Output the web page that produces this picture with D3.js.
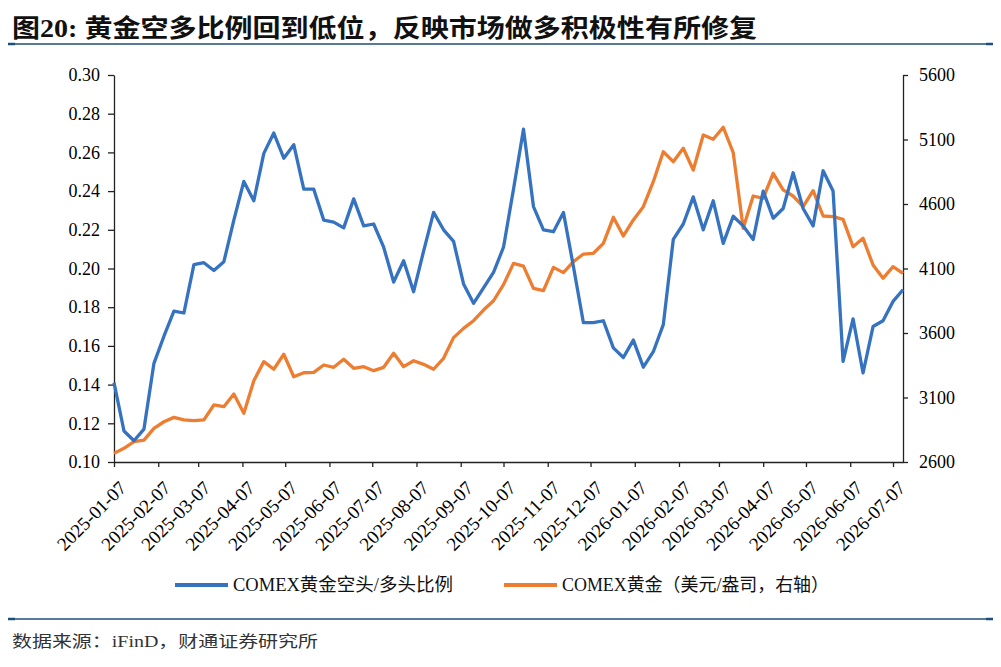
<!DOCTYPE html>
<html>
<head>
<meta charset="utf-8">
<script src="https://cdn.jsdelivr.net/npm/d3@7"></script>
<style>
  body { margin: 0; background: #fff; }
  svg { display: block; }
</style>
</head>
<body>
<script>
'use strict';

// weekly dates (Tuesdays)
const dates = [
  "2025-01-07","2025-01-14","2025-01-21","2025-01-28","2025-02-04","2025-02-11","2025-02-18","2025-02-25",
  "2025-03-04","2025-03-11","2025-03-18","2025-03-25","2025-04-01","2025-04-08","2025-04-15","2025-04-22",
  "2025-04-29","2025-05-06","2025-05-13","2025-05-20","2025-05-27","2025-06-03","2025-06-10","2025-06-17",
  "2025-06-24","2025-07-01","2025-07-08","2025-07-15","2025-07-22","2025-07-29","2025-08-05","2025-08-12",
  "2025-08-19","2025-08-26","2025-09-02","2025-09-09","2025-09-16","2025-09-23","2025-09-30","2025-10-07",
  "2025-10-14","2025-10-21","2025-10-28","2025-11-04","2025-11-11","2025-11-18","2025-11-25","2025-12-02",
  "2025-12-09","2025-12-16","2025-12-23","2025-12-30","2026-01-06","2026-01-13","2026-01-20","2026-01-27",
  "2026-02-03","2026-02-10","2026-02-17","2026-02-24","2026-03-03","2026-03-10","2026-03-17","2026-03-24",
  "2026-03-31","2026-04-07","2026-04-14","2026-04-21","2026-04-28","2026-05-05","2026-05-12","2026-05-19",
  "2026-05-26","2026-06-02","2026-06-09","2026-06-16","2026-06-23","2026-06-30","2026-07-07","2026-07-14"
];

// COMEX gold short/long ratio (left axis)
const ratio = [
  0.141,0.116,0.111,0.117,0.151,0.165,0.178,0.177,0.202,0.203,0.199,0.2035,0.225,0.245,0.235,0.2595,
  0.270,0.257,0.264,0.241,0.241,0.225,0.224,0.221,0.236,0.222,0.223,0.211,0.193,0.204,0.188,0.209,
  0.229,0.220,0.214,0.192,0.182,0.190,0.198,0.211,0.241,0.272,0.232,0.220,0.219,0.229,0.201,0.172,
  0.172,0.173,0.159,0.154,0.163,0.149,0.157,0.171,0.215,0.223,0.237,0.220,0.235,0.213,0.227,0.222,
  0.215,0.240,0.226,0.231,0.2495,0.231,0.222,0.2505,0.240,0.152,0.174,0.146,0.170,0.173,0.183,0.189
];

// COMEX gold price, USD/oz (right axis)
const gold = [
  2667,2706,2757,2770,2861,2912,2946,2926,2920,2926,3042,3029,3127,2977,3230,3378,
  3319,3435,3261,3292,3295,3352,3334,3396,3326,3339,3308,3334,3443,3339,3385,3357,
  3319,3404,3564,3636,3695,3778,3850,3975,4140,4119,3946,3928,4109,4068,4153,4212,
  4218,4295,4497,4352,4476,4579,4773,5005,4928,5032,4864,5135,5102,5195,4998,4412,
  4662,4644,4838,4709,4662,4579,4703,4507,4502,4481,4269,4334,4127,4024,4114,4063
];

const xTicks = [
  "2025-01-07","2025-02-07","2025-03-07","2025-04-07","2025-05-07","2025-06-07","2025-07-07",
  "2025-08-07","2025-09-07","2025-10-07","2025-11-07","2025-12-07","2026-01-07","2026-02-07",
  "2026-03-07","2026-04-07","2026-05-07","2026-06-07","2026-07-07"
];
const leftTicks = [0.10,0.12,0.14,0.16,0.18,0.20,0.22,0.24,0.26,0.28,0.30];
const rightTicks = [2600,3100,3600,4100,4600,5100,5600];

const seriesNames = ["COMEX黄金空头/多头比例", "COMEX黄金（美元/盎司，右轴）"];
const colors = ["#3572c0", "#ed7d31"];

const m = { width: 1001, height: 667, left: 114, right: 903, top: 75, bottom: 462 };
const parse = d3.timeParse("%Y-%m-%d");
const latin = "'Liberation Serif', 'Times New Roman', serif";
const cjk = "'Liberation Serif', 'Noto Sans CJK SC', serif";

const svg = d3.select('body').append('svg')
  .attr('width', m.width)
  .attr('height', m.height);

// title + header rule
svg.append('text')
  .attr('x', 12).attr('y', 37)
  .attr('font-family', cjk)
  .attr('font-weight', 'bold')
  .attr('font-size', 25)
  .attr('textLength', 745)
  .attr('lengthAdjust', 'spacingAndGlyphs')
  .attr('fill', '#111')
  .text('图20: 黄金空多比例回到低位，反映市场做多积极性有所修复');

function rule(y) {
  svg.append('line')
    .attr('x1', 8).attr('x2', 993).attr('y1', y).attr('y2', y)
    .attr('stroke', '#1f4e79').attr('stroke-width', 1.3);
  [[8, 15], [986, 993]].forEach(e => {
    svg.append('line')
      .attr('x1', e[0]).attr('x2', e[1]).attr('y1', y).attr('y2', y)
      .attr('stroke', '#1f4e79').attr('stroke-width', 2.5);
  });
}
rule(44);
rule(619);

// scales
const x = d3.scaleTime()
  .domain([parse(dates[0]), parse(dates[dates.length - 1])])
  .range([m.left, m.right]);
const yL = d3.scaleLinear().domain([0.10, 0.30]).range([m.bottom, m.top]);
const yR = d3.scaleLinear().domain([2600, 5600]).range([m.bottom, m.top]);

// axes
const xAxis = svg.append('g')
  .attr('transform', 'translate(0,' + m.bottom + ')')
  .call(d3.axisBottom(x)
    .tickValues(xTicks.map(parse))
    .tickFormat(d3.timeFormat('%Y-%m-%d'))
    .tickSize(5)
    .tickSizeOuter(0));
xAxis.selectAll('text')
  .attr('font-family', latin)
  .attr('font-size', 19)
  .attr('fill', '#000')
  .attr('text-anchor', 'end')
  .attr('dx', 0).attr('dy', 0)
  .attr('x', 0).attr('y', 0)
  .attr('transform', 'translate(13,27) rotate(-45)');

const leftAxis = svg.append('g')
  .attr('transform', 'translate(' + m.left + ',0)')
  .call(d3.axisLeft(yL).tickValues(leftTicks).tickFormat(d3.format('.2f')).tickSize(6).tickSizeOuter(0));
leftAxis.selectAll('text')
  .attr('font-family', latin).attr('font-size', 18).attr('fill', '#000').attr('x', -14);

const rightAxis = svg.append('g')
  .attr('transform', 'translate(' + m.right + ',0)')
  .call(d3.axisRight(yR).tickValues(rightTicks).tickFormat(d3.format('d')).tickSize(5).tickSizeOuter(0));
rightAxis.selectAll('text')
  .attr('font-family', latin).attr('font-size', 18).attr('fill', '#000').attr('x', 16);

svg.selectAll('.domain, .tick line').attr('stroke', '#222').attr('stroke-width', 1.3);

// lines
const rows = dates.map((d, i) => ({ date: parse(d), r: ratio[i], g: gold[i] }));

svg.append('path')
  .datum(rows)
  .attr('fill', 'none')
  .attr('stroke', colors[1])
  .attr('stroke-width', 3.3)
  .attr('stroke-linejoin', 'round')
  .attr('d', d3.line().x(d => x(d.date)).y(d => yR(d.g)));

svg.append('path')
  .datum(rows)
  .attr('fill', 'none')
  .attr('stroke', colors[0])
  .attr('stroke-width', 3.3)
  .attr('stroke-linejoin', 'round')
  .attr('d', d3.line().x(d => x(d.date)).y(d => yL(d.r)));

// legend
const legendItems = [
  { x: 175, w: 220 },
  { x: 504, w: 267 }
];
legendItems.forEach((it, i) => {
  svg.append('line')
    .attr('x1', it.x).attr('x2', it.x + 53)
    .attr('y1', 585).attr('y2', 585)
    .attr('stroke', colors[i]).attr('stroke-width', 4);
  svg.append('text')
    .attr('x', it.x + 58).attr('y', 591)
    .attr('font-family', cjk)
    .attr('font-size', 18)
    .attr('textLength', it.w)
    .attr('lengthAdjust', 'spacingAndGlyphs')
    .attr('fill', '#111')
    .text(seriesNames[i]);
});

// source
svg.append('text')
  .attr('x', 12).attr('y', 647)
  .attr('font-family', cjk)
  .attr('font-size', 16)
  .attr('textLength', 306)
  .attr('lengthAdjust', 'spacingAndGlyphs')
  .attr('fill', '#333')
  .text('数据来源：iFinD，财通证券研究所');
</script>
</body>
</html>
